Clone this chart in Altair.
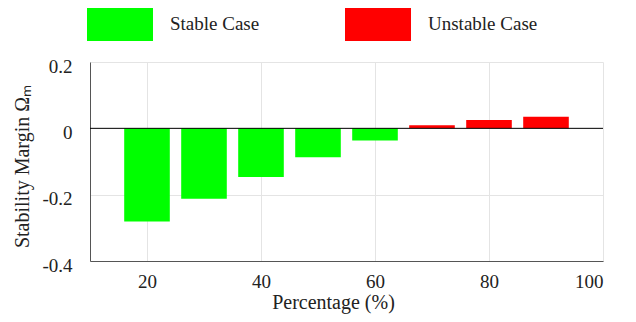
import altair as alt
import pandas as pd

# ---- data ----
percent = [20, 30, 40, 50, 60, 70, 80, 90]
margin = [-0.281, -0.212, -0.147, -0.087, -0.037, 0.009, 0.025, 0.035]
case = ["Stable Case"] * 5 + ["Unstable Case"] * 3
categories = ["Stable Case", "Unstable Case"]
colors = ["#00FF00", "#FF0000"]
x_ticks = [20, 40, 60, 80, 100]
y_ticks = [-0.4, -0.2, 0, 0.2]
zero_line = [0]

df = pd.DataFrame({"pct": percent, "margin": margin, "case": case})
zdf = pd.DataFrame({"y": zero_line})

FONT = "Liberation Serif"
TXT = "#222222"

x_axis = alt.Axis(
    values=x_ticks, title="Percentage (%)", grid=True, gridColor="#e4e4e4",
    ticks=False, tickSize=0, domainColor="#555555",
    labelFont=FONT, labelFontSize=19, labelColor=TXT, labelPadding=26,
    labelBaseline="alphabetic",
    titleFont=FONT, titleFontSize=20, titleFontWeight="normal", titleColor=TXT,
    titleX=243, titleY=47, titleBaseline="alphabetic", titleAlign="center",
)
y_axis = alt.Axis(
    values=y_ticks, title="Stability Margin Ωₘ", grid=True, gridColor="#e4e4e4",
    ticks=False, tickSize=0, domainColor="#555555",
    labelExpr="datum.value == 0 ? '0' : (datum.value < 0 ? '-' : '') + format(abs(datum.value), '.1f')",
    labelFont=FONT, labelFontSize=19, labelColor=TXT, labelPadding=18, labelOffset=4,
    titleFont=FONT, titleFontSize=20, titleFontWeight="normal", titleColor=TXT,
    titleX=-62, titleY=104, titleAngle=-90, titleBaseline="alphabetic", titleAlign="center",
)

legend = alt.Legend(
    orient="none", legendX=-3, legendY=-71, direction="horizontal", title=None,
    symbolType="M-1,-0.515L1,-0.515L1,0.515L-1,0.515Z", symbolSize=4356,
    symbolStrokeWidth=0, symbolOpacity=1,
    labelFont=FONT, labelFontSize=19, labelColor=TXT, labelOffset=17,
    columnPadding=85, padding=0,
)

bars = alt.Chart(df).transform_calculate(
    x0="datum.pct - 4", x1="datum.pct + 4", base="0"
).mark_bar().encode(
    x=alt.X("x0:Q", scale=alt.Scale(domain=[10, 100], nice=False, zero=False), axis=x_axis),
    x2="x1:Q",
    y=alt.Y("margin:Q", scale=alt.Scale(domain=[-0.4, 0.2], nice=False), axis=y_axis),
    y2="base:Q",
    color=alt.Color("case:N", scale=alt.Scale(domain=categories, range=colors), legend=legend),
)

rule = alt.Chart(zdf).mark_rule(color="black", strokeWidth=1).encode(y="y:Q")

chart = alt.layer(bars, rule).properties(
    width=513, height=199,
    autosize=alt.AutoSizeParams(type="none"),
    padding={"left": 82, "top": 54, "right": 25, "bottom": 53},
).configure(font=FONT).configure_axis(
    labelFont=FONT, titleFont=FONT
).configure_legend(labelFont=FONT).configure_view(stroke=None)

chart.save("out.html", embed_options={"renderer": "svg", "actions": False})
